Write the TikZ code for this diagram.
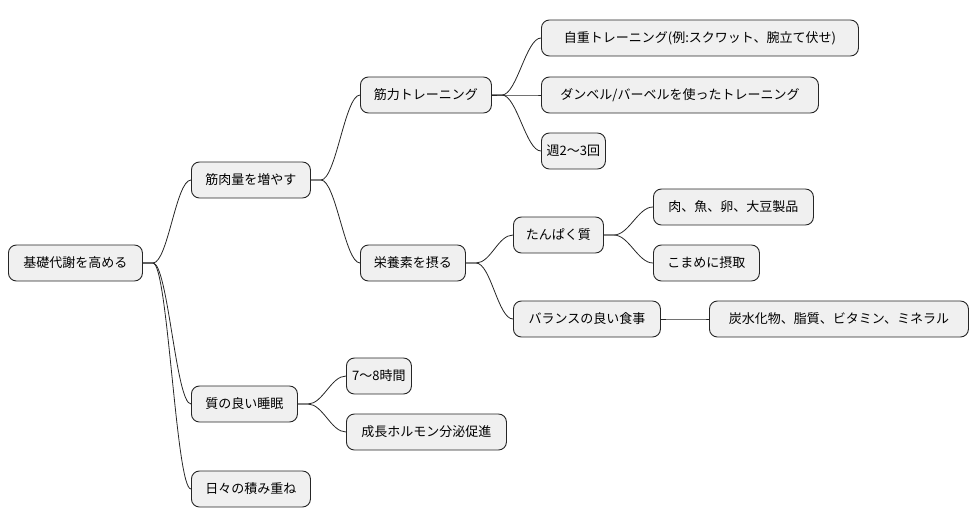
\documentclass[tikz,border=0pt]{standalone}
\usepackage{fontspec}
\setmainfont{Noto Sans CJK JP}
\begin{document}
\begin{tikzpicture}[x=1pt,y=-1pt,
  box/.style={draw=black!85,fill=black!6,rounded corners=8pt,line width=0.9pt,inner sep=0pt,minimum height=36pt,font=\fontsize{13}{15}\selectfont,anchor=west},
  link/.style={draw=black!85,line width=0.8pt}]
\useasboundingbox (0,0) rectangle (978,527);
\newcommand\bx[5]{\node[box,minimum width=#4pt] (#1) at (#2,#3) {#5};}
\bx{r}{8}{263}{134}{基礎代謝を高める}
\bx{a}{191}{180}{119}{筋肉量を増やす}
\bx{a1}{360}{95}{131}{筋力トレーニング}
\bx{a11}{541}{38}{317}{自重トレーニング(例:スクワット、腕立て伏せ)}
\bx{a12}{541}{95}{277}{ダンベル/バーベルを使ったトレーニング}
\bx{a13}{541}{151}{64}{週2〜3回}
\bx{a2}{360}{263}{105}{栄養素を摂る}
\bx{a21}{513}{235}{90}{たんぱく質}
\bx{a211}{653}{207}{160}{肉、魚、卵、大豆製品}
\bx{a212}{653}{263}{106}{こまめに摂取}
\bx{a22}{513}{319}{147}{バランスの良い食事}
\bx{a221}{709}{319}{259}{炭水化物、脂質、ビタミン、ミネラル}
\bx{b}{191}{404}{106}{質の良い睡眠}
\bx{b1}{346}{376}{65}{7〜8時間}
\bx{b2}{346}{432}{160}{成長ホルモン分泌促進}
\bx{c}{191}{489}{119}{日々の積み重ね}
\foreach \p/\c in {r/a,r/b,r/c,a/a1,a/a2,a1/a11,a1/a12,a1/a13,a2/a21,a2/a22,a21/a211,a21/a212,a22/a221,b/b1,b/b2}
  \draw[link] (\p.east) -- ++(10,0) .. controls +(15,0) and +(-15,0) .. (\c.west);
\end{tikzpicture}
\end{document}
